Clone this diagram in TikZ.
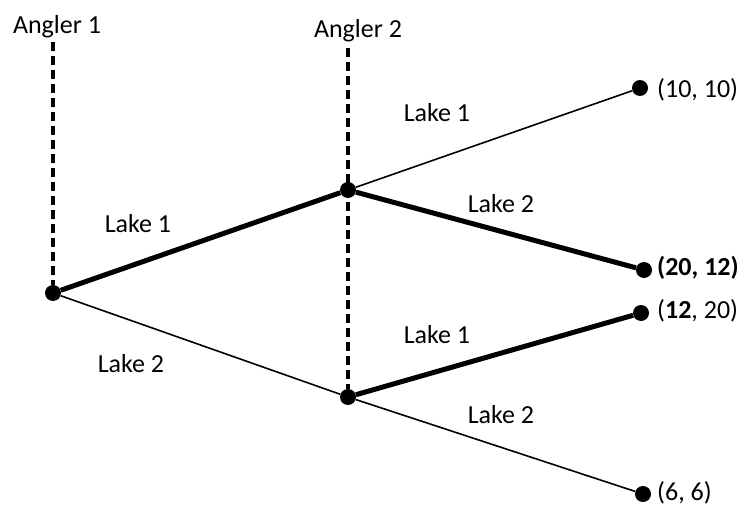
\documentclass[tikz,border=0pt]{standalone}
\usepackage{fontspec}
\setmainfont{Carlito}
\usepackage{tikz}

\begin{document}
\begin{tikzpicture}[x=1pt,y=-1pt,
        dot/.style={circle,fill=black,inner sep=0pt,minimum size=16pt},
        lbl/.style={anchor=base,inner sep=0pt,font=\fontsize{26}{30}\selectfont},
        pay/.style={anchor=base west,inner sep=0pt,font=\fontsize{26}{30}\selectfont}]
        \useasboundingbox (0,0) rectangle (740,506);

        % Decision nodes and end nodes:
        \node[dot] (root) at (53,293) {};
        \node[dot] (up) at (348,190) {};
        \node[dot] (lo) at (348,397) {};
        \node[dot] (uu) at (640,88) {};
        \node[dot] (ud) at (644,270) {};
        \node[dot] (du) at (641,313) {};
        \node[dot] (dd) at (643,494) {};

        % Players:
        \node[lbl] (a1) at (57,33) {Angler 1};
        \node[lbl] (a2) at (358,37) {Angler 2};
        \coordinate (a1top) at (53,42);
        \coordinate (a2top) at (348,48);

        % Information lines:
        \draw[line width=3.2pt,dash pattern=on 9pt off 5pt] (a1top) -- (root);
        \draw[line width=3.2pt,dash pattern=on 9pt off 5pt] (a2top) -- (lo);

        % Branches of Angler 1:
        \draw[line width=5pt] (root) -- (up);
        \draw[line width=1.6pt] (root) -- (lo);

        % Branches of Angler 2:
        \draw[line width=1.6pt] (up) -- (uu);
        \draw[line width=5pt] (up) -- (ud);
        \draw[line width=5pt] (lo) -- (du);
        \draw[line width=1.6pt] (lo) -- (dd);

        % Lake labels:
        \node[lbl] (l1) at (138,232) {Lake 1};
        \node[lbl] (l2) at (131,372) {Lake 2};
        \node[lbl] (l11) at (437,121) {Lake 1};
        \node[lbl] (l12) at (501,212) {Lake 2};
        \node[lbl] (l21) at (437,343) {Lake 1};
        \node[lbl] (l22) at (501,423) {Lake 2};

        % Payoffs:
        \node[pay] (p11) at (657,97) {(10, 10)};
        \node[pay] (p12) at (657,275) {\textbf{(20, 12)}};
        \node[pay] (p21) at (657,318) {(\textbf{12}, 20)};
        \node[pay] (p22) at (657,500) {(6, 6)};
\end{tikzpicture}
\end{document}
